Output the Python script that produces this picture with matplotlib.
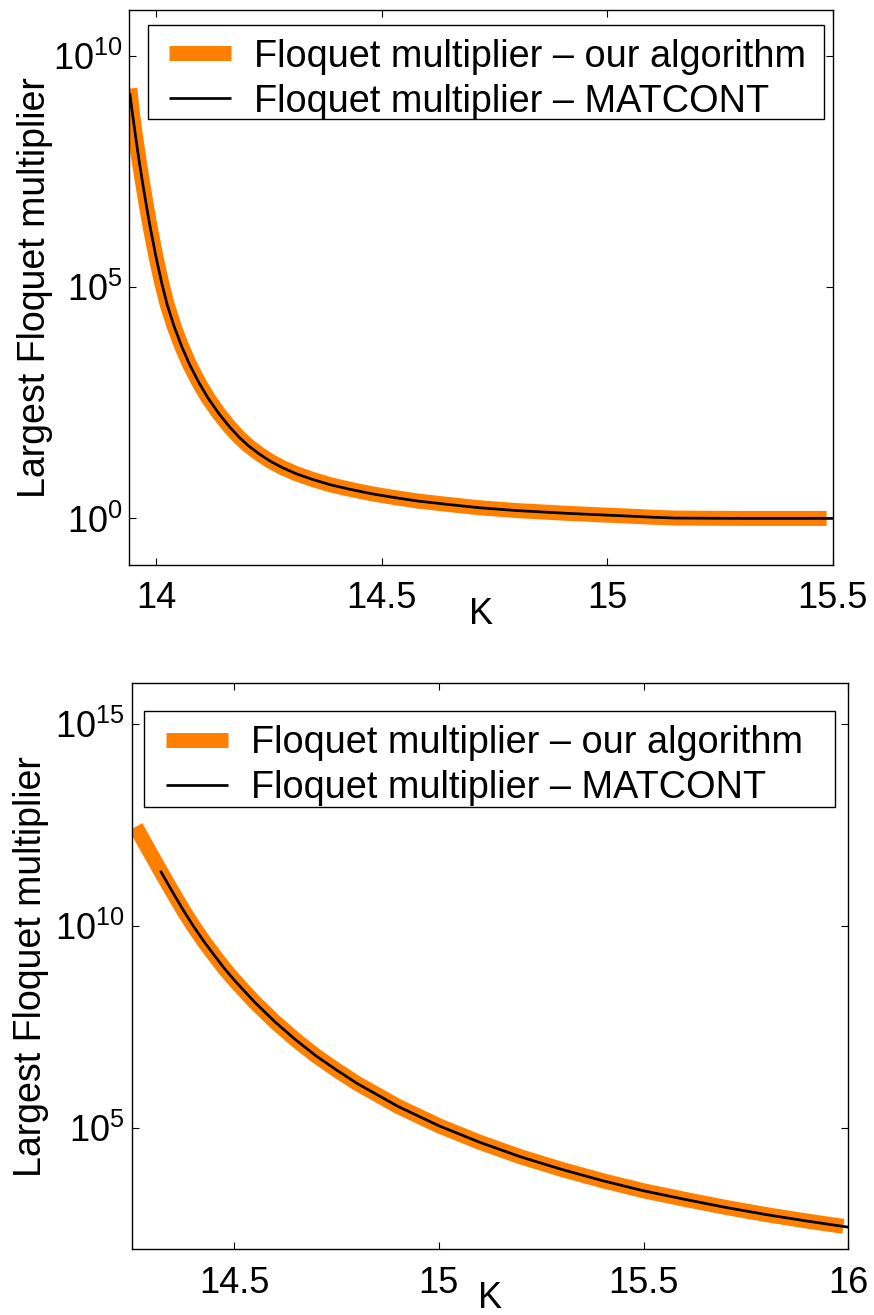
import matplotlib
matplotlib.use('Agg')
import matplotlib.pyplot as plt
import numpy as np
from matplotlib.ticker import FixedLocator, NullLocator, LogFormatterSciNotation
from matplotlib.patches import Rectangle

plt.rcParams['font.family'] = ['Liberation Sans', 'DejaVu Sans']
plt.rcParams['mathtext.fontset'] = 'custom'
plt.rcParams['mathtext.rm'] = 'Liberation Sans'
plt.rcParams['mathtext.it'] = 'Liberation Sans:italic'
plt.rcParams['mathtext.bf'] = 'Liberation Sans:bold'

# ---------------- data (log10 of largest Floquet multiplier) ----------------
# Top panel
top_K = [13.942, 13.948, 13.955, 13.962, 13.970, 13.978, 13.987, 14.000, 14.013,
         14.025, 14.040, 14.057, 14.075, 14.095, 14.115, 14.140, 14.164, 14.185,
         14.205, 14.228, 14.253, 14.280, 14.310, 14.345, 14.386, 14.430, 14.480,
         14.530, 14.581, 14.650, 14.718, 14.800, 14.902, 14.975, 15.050, 15.100,
         15.150, 15.300]
top_log10 = [9.20, 8.75, 8.25, 7.78, 7.28, 6.81, 6.31, 5.66, 5.08,
             4.62, 4.16, 3.72, 3.32, 2.94, 2.61, 2.26, 1.97, 1.75,
             1.57, 1.40, 1.24, 1.10, 0.97, 0.85, 0.73, 0.63, 0.53,
             0.45, 0.375, 0.30, 0.23, 0.17, 0.115, 0.082, 0.050, 0.026,
             0.008, 0.00]
# our algorithm: starts a bit higher, stops at 15.486
top_ours_K = top_K + [15.486]
top_ours_log10 = [9.30] + top_log10[1:] + [0.00]
# MATCONT: runs to the right edge
top_matcont_K = top_K + [15.500]
top_matcont_log10 = top_log10 + [0.00]

# Bottom panel
bot_ours_K = [14.26, 14.28, 14.30, 14.32, 14.35, 14.375, 14.40, 14.425, 14.45, 14.475,
              14.50, 14.55, 14.60, 14.65, 14.70, 14.75, 14.80, 14.90, 15.00, 15.10,
              15.20, 15.30, 15.40, 15.50, 15.60, 15.70, 15.80, 15.90, 15.988]
bot_ours_log10 = [12.45, 12.08, 11.72, 11.36, 10.83, 10.40, 10.00, 9.63, 9.29, 8.96,
                  8.66, 8.11, 7.62, 7.18, 6.78, 6.43, 6.10, 5.53, 5.05, 4.64,
                  4.28, 3.97, 3.69, 3.44, 3.23, 3.03, 2.85, 2.69, 2.56]
bot_matcont_K = [14.32, 14.35, 14.375, 14.40, 14.425, 14.45, 14.475, 14.50, 14.55,
                 14.60, 14.65, 14.70, 14.75, 14.80, 14.90, 15.00, 15.10, 15.20, 15.30,
                 15.40, 15.50, 15.60, 15.70, 15.80, 15.90, 16.00]
bot_matcont_log10 = [11.36, 10.83, 10.40, 10.00, 9.63, 9.29, 8.96, 8.66, 8.11,
                     7.62, 7.18, 6.78, 6.43, 6.10, 5.53, 5.05, 4.64, 4.28, 3.97,
                     3.69, 3.44, 3.23, 3.03, 2.85, 2.69, 2.54]

top_xticks = [14, 14.5, 15, 15.5]
top_xticklabels = ['14', '14.5', '15', '15.5']
top_yticks = [1e0, 1e5, 1e10]
bot_xticks = [14.5, 15, 15.5, 16]
bot_xticklabels = ['14.5', '15', '15.5', '16']
bot_yticks = [1e5, 1e10, 1e15]

label_ours = 'Floquet multiplier \u2013 our algorithm'
label_matcont = 'Floquet multiplier \u2013 MATCONT'
xlabel = 'K'
ylabel = 'Largest Floquet multiplier'

ORANGE = '#ff8000'

fig = plt.figure(figsize=(8.74, 13.15), dpi=100)
ax1 = fig.add_axes([0.148, 0.5706, 0.805, 0.4218])
ax2 = fig.add_axes([0.1507, 0.0502, 0.8199, 0.4302])


def draw(ax, oK, oL, mK, mL, xlim, ylim, xticks, xtl, yticks,
         frame_box, leg_anchor, xlab_y, ylab_x):
    ax.plot(oK, 10.0 ** np.array(oL), color=ORANGE, lw=10.8,
            solid_capstyle='butt', solid_joinstyle='round', label=label_ours)
    ax.plot(mK, 10.0 ** np.array(mL), color='black', lw=1.95,
            solid_capstyle='butt', solid_joinstyle='round', label=label_matcont)
    ax.set_yscale('log')
    ax.set_xlim(*xlim)
    ax.set_ylim(*ylim)
    ax.set_xticks(xticks)
    ax.set_xticklabels(xtl)
    ax.yaxis.set_major_locator(FixedLocator(yticks))
    ax.yaxis.set_minor_locator(NullLocator())
    ax.xaxis.set_minor_locator(NullLocator())
    ax.yaxis.set_major_formatter(LogFormatterSciNotation())
    ax.tick_params(which='both', direction='in', length=5, width=0.8,
                   top=True, right=True, labelsize=26, colors='black')
    ax.tick_params(axis='x', pad=12)
    ax.tick_params(axis='y', pad=5)
    for s in ax.spines.values():
        s.set_linewidth(1.0)
    ax.set_xlabel(xlabel, fontsize=26)
    ax.xaxis.set_label_coords(0.5, xlab_y)
    ax.set_ylabel(ylabel, fontsize=27)
    ax.yaxis.set_label_coords(ylab_x, 0.5)
    x0, y0, w, h = frame_box
    ax.add_patch(Rectangle((x0, y0), w, h, transform=ax.transAxes,
                           facecolor='white', edgecolor='black', lw=1.0,
                           zorder=4, clip_on=False))
    leg = ax.legend(loc='upper left', bbox_to_anchor=leg_anchor, fontsize=27.3,
                    frameon=False, handlelength=1.63, handletextpad=0.6,
                    borderaxespad=0, borderpad=0, labelspacing=0.24)
    leg.set_zorder(5)


draw(ax1, top_ours_K, top_ours_log10, top_matcont_K, top_matcont_log10,
     (13.941, 15.5), (1e-1, 1e11), top_xticks, top_xticklabels, top_yticks,
     (0.027, 0.8035, 0.961, 0.1695), (0.0564, 0.9486), -0.058, -0.109)
draw(ax2, bot_ours_K, bot_ours_log10, bot_matcont_K, bot_matcont_log10,
     (14.25, 16.0), (1e2, 1e16), bot_xticks, bot_xticklabels, bot_yticks,
     (0.0176, 0.781, 0.9644, 0.170), (0.0479, 0.9263), -0.056, -0.116)

fig.savefig('out.png', dpi=100)
